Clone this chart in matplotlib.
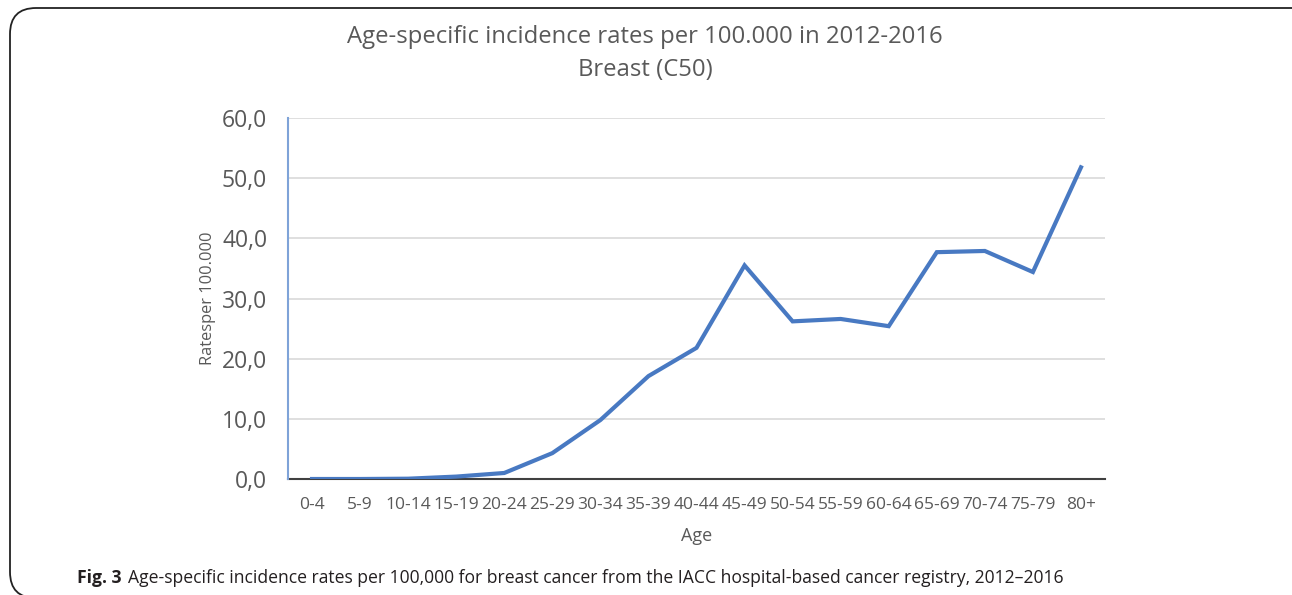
import matplotlib
matplotlib.use("Agg")
import matplotlib.pyplot as plt
from matplotlib.patches import FancyBboxPatch

age_groups = ["0-4", "5-9", "10-14", "15-19", "20-24", "25-29", "30-34", "35-39",
              "40-44", "45-49", "50-54", "55-59", "60-64", "65-69", "70-74", "75-79", "80+"]
rates = [0.0, 0.0, 0.05, 0.4, 1.0, 4.3, 9.8, 17.1, 21.8, 35.5, 26.2, 26.6, 25.4,
         37.7, 37.9, 34.4, 51.8]
y_ticks = [0, 10, 20, 30, 40, 50, 60]
y_tick_labels = ["0,0", "10,0", "20,0", "30,0", "40,0", "50,0", "60,0"]

plt.rcParams['font.family'] = ['Open Sans', 'DejaVu Sans']
W, H = 1292, 595
fig = plt.figure(figsize=(W / 100, H / 100), dpi=100)

# border box (right and bottom edges run off the image)
r = 12
top_px = 8
bottom_px = 598
box = FancyBboxPatch((10 / W, (H - bottom_px) / H), (1330 - 10) / W,
                     (bottom_px - top_px) / H,
                     boxstyle=f"round,pad=0,rounding_size={r / H}",
                     transform=fig.transFigure, fill=False, ec="#222222", lw=1.3,
                     mutation_aspect=W / H, clip_on=False)
fig.add_artist(box)

ax = fig.add_axes([288 / W, 1 - 479 / H, (1105 - 288) / W, (479 - 118) / H])
x = list(range(len(age_groups)))
ax.plot(x, rates, color="#4879c2", lw=3.0, solid_joinstyle="miter", zorder=3)
ax.set_xlim(-0.5, len(age_groups) - 0.5)
ax.set_ylim(0, 60)
ax.set_yticks(y_ticks)
ax.set_yticklabels(y_tick_labels, fontsize=16.5, color="#595959")
ax.set_xticks(x)
ax.set_xticklabels(age_groups, fontsize=12.5, color="#595959")
ax.tick_params(axis='both', length=0)
ax.tick_params(axis='x', pad=13)
ax.tick_params(axis='y', pad=15)
ax.grid(axis='y', color="#d9d9d9", lw=1.2, zorder=0)
ax.set_axisbelow(True)
for s in ["top", "right"]:
    ax.spines[s].set_visible(False)
ax.spines["left"].set_color("#7fa3d8")
ax.spines["left"].set_linewidth(1.5)
ax.spines["bottom"].set_color("#404040")
ax.spines["bottom"].set_linewidth(1.5)
ax.spines["bottom"].set_zorder(2)

ax.set_ylabel("Ratesper 100.000", fontsize=11.8, color="#595959", labelpad=4)
ax.set_xlabel("Age", fontsize=13, color="#595959", labelpad=10)

fig.text(645 / W, 1 - 37 / H, "Age-specific incidence rates per 100.000 in 2012-2016",
         ha="center", va="center", fontsize=17.2, color="#595959")
fig.text(645 / W, 1 - 70 / H, "Breast (C50)", ha="center", va="center",
         fontsize=17.2, color="#595959")

t1 = fig.text(77 / W, 1 - 578 / H, "Fig. 3", ha="left", va="center",
              fontsize=12.65, fontweight="bold", color="#231f20")
ax.annotate("Age-specific incidence rates per 100,000 for breast cancer from the IACC "
            "hospital-based cancer registry, 2012\u20132016",
            xy=(1, 0), xycoords=t1, xytext=(5, 0), textcoords="offset points",
            ha="left", va="bottom", fontsize=12.65, color="#231f20",
            annotation_clip=False)

fig.savefig("out.png", dpi=100)
